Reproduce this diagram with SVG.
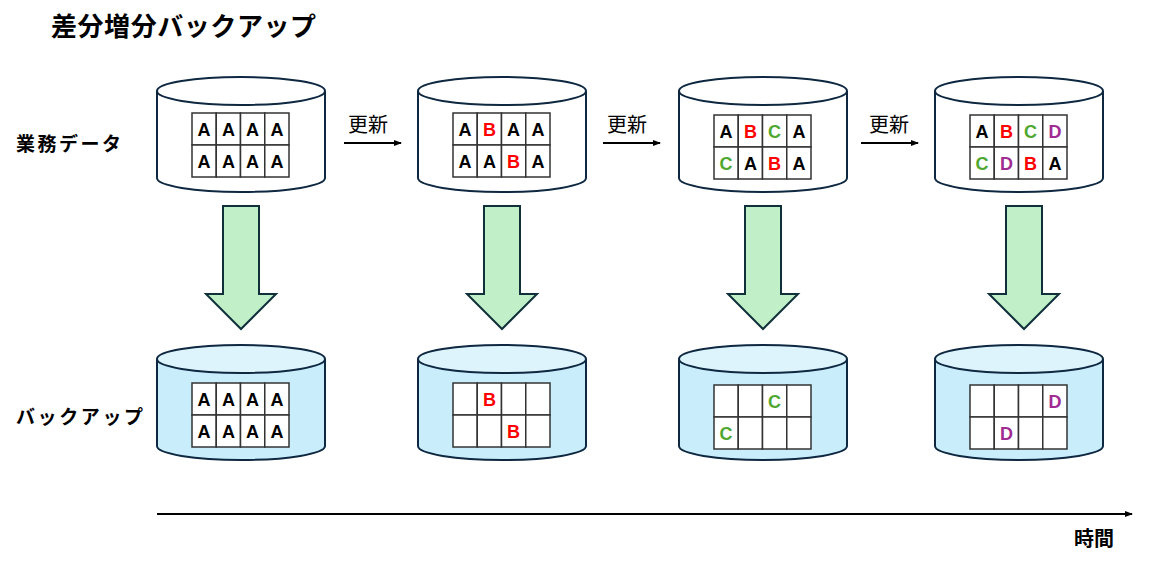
<svg xmlns="http://www.w3.org/2000/svg" width="1151" height="565" viewBox="0 0 1151 565">
<style>
.cyl{stroke:#0E2841;stroke-width:2}
.top{fill:#FFFFFF}
.bot{fill:#C9EDFA}
.lid{fill:#DDF4FC}
.cell{fill:#FFFFFF;stroke:#333333;stroke-width:1.5}
.ch{font-family:"Liberation Sans",Arial,sans-serif;font-weight:bold;font-size:18px;text-anchor:middle}
.k{fill:#000000}.r{fill:#FF0000}.g{fill:#4EA72E}.p{fill:#A02B93}
.jp{font-family:"Noto Sans CJK JP",sans-serif;fill:#000000}
.garrow{fill:#C1F0C8;stroke:#10303A;stroke-width:2;stroke-linejoin:miter}
.line{stroke:#000000;stroke-width:2;fill:none}
</style>
<defs>
<marker id="ah" markerWidth="8" markerHeight="8" refX="7" refY="4" orient="auto" markerUnits="userSpaceOnUse">
<path d="M0,1 L8,4 L0,7 Z" fill="#000000"/>
</marker>
<g id="grid">
<rect class="cell" x="0" y="0" width="24.25" height="32"/>
<rect class="cell" x="24.25" y="0" width="24.25" height="32"/>
<rect class="cell" x="48.5" y="0" width="24.25" height="32"/>
<rect class="cell" x="72.75" y="0" width="24.25" height="32"/>
<rect class="cell" x="0" y="32" width="24.25" height="32"/>
<rect class="cell" x="24.25" y="32" width="24.25" height="32"/>
<rect class="cell" x="48.5" y="32" width="24.25" height="32"/>
<rect class="cell" x="72.75" y="32" width="24.25" height="32"/>
</g>
</defs>

<text class="jp" x="51" y="36" font-size="26" font-weight="bold" textLength="265">差分増分バックアップ</text>
<text class="jp" x="16" y="151" font-size="19" font-weight="bold" textLength="105">業務データ</text>
<text class="jp" x="16" y="424" font-size="19" font-weight="bold" textLength="127">バックアップ</text>

<!-- top cylinders -->
<g id="db1">
<path class="cyl top" d="M157,91 L157,178 A84,14 0 0 0 325,178 L325,91"/>
<ellipse class="cyl top" cx="241" cy="91" rx="84" ry="14"/>
<use href="#grid" x="192" y="113"/>
<text class="ch k" x="204.1" y="136">A</text><text class="ch k" x="228.4" y="136">A</text><text class="ch k" x="252.6" y="136">A</text><text class="ch k" x="276.9" y="136">A</text>
<text class="ch k" x="204.1" y="168">A</text><text class="ch k" x="228.4" y="168">A</text><text class="ch k" x="252.6" y="168">A</text><text class="ch k" x="276.9" y="168">A</text>
</g>
<g id="db2">
<path class="cyl top" d="M418,91 L418,178 A84,14 0 0 0 586,178 L586,91"/>
<ellipse class="cyl top" cx="502" cy="91" rx="84" ry="14"/>
<use href="#grid" x="453" y="113"/>
<text class="ch k" x="465.1" y="136">A</text><text class="ch r" x="489.4" y="136">B</text><text class="ch k" x="513.6" y="136">A</text><text class="ch k" x="537.9" y="136">A</text>
<text class="ch k" x="465.1" y="168">A</text><text class="ch k" x="489.4" y="168">A</text><text class="ch r" x="513.6" y="168">B</text><text class="ch k" x="537.9" y="168">A</text>
</g>
<g id="db3">
<path class="cyl top" d="M679,91 L679,178 A84,14 0 0 0 847,178 L847,91"/>
<ellipse class="cyl top" cx="763" cy="91" rx="84" ry="14"/>
<use href="#grid" x="714" y="115"/>
<text class="ch k" x="726.1" y="138">A</text><text class="ch r" x="750.4" y="138">B</text><text class="ch g" x="774.6" y="138">C</text><text class="ch k" x="798.9" y="138">A</text>
<text class="ch g" x="726.1" y="170">C</text><text class="ch k" x="750.4" y="170">A</text><text class="ch r" x="774.6" y="170">B</text><text class="ch k" x="798.9" y="170">A</text>
</g>
<g id="db4">
<path class="cyl top" d="M935,91 L935,178 A84,14 0 0 0 1103,178 L1103,91"/>
<ellipse class="cyl top" cx="1019" cy="91" rx="84" ry="14"/>
<use href="#grid" x="970" y="115"/>
<text class="ch k" x="982.1" y="138">A</text><text class="ch r" x="1006.4" y="138">B</text><text class="ch g" x="1030.6" y="138">C</text><text class="ch p" x="1054.9" y="138">D</text>
<text class="ch g" x="982.1" y="170">C</text><text class="ch p" x="1006.4" y="170">D</text><text class="ch r" x="1030.6" y="170">B</text><text class="ch k" x="1054.9" y="170">A</text>
</g>

<!-- bottom cylinders -->
<g id="bk1">
<path class="cyl bot" d="M157,359 L157,446 A84,14 0 0 0 325,446 L325,359"/>
<ellipse class="cyl lid" cx="241" cy="359" rx="84" ry="14"/>
<use href="#grid" x="192" y="383"/>
<text class="ch k" x="204.1" y="406">A</text><text class="ch k" x="228.4" y="406">A</text><text class="ch k" x="252.6" y="406">A</text><text class="ch k" x="276.9" y="406">A</text>
<text class="ch k" x="204.1" y="438">A</text><text class="ch k" x="228.4" y="438">A</text><text class="ch k" x="252.6" y="438">A</text><text class="ch k" x="276.9" y="438">A</text>
</g>
<g id="bk2">
<path class="cyl bot" d="M418,359 L418,446 A84,14 0 0 0 586,446 L586,359"/>
<ellipse class="cyl lid" cx="502" cy="359" rx="84" ry="14"/>
<use href="#grid" x="453" y="383"/>
<text class="ch r" x="489.4" y="406">B</text>
<text class="ch r" x="513.6" y="438">B</text>
</g>
<g id="bk3">
<path class="cyl bot" d="M679,359 L679,446 A84,14 0 0 0 847,446 L847,359"/>
<ellipse class="cyl lid" cx="763" cy="359" rx="84" ry="14"/>
<use href="#grid" x="714" y="385"/>
<text class="ch g" x="774.6" y="408">C</text>
<text class="ch g" x="726.1" y="440">C</text>
</g>
<g id="bk4">
<path class="cyl bot" d="M935,359 L935,446 A84,14 0 0 0 1103,446 L1103,359"/>
<ellipse class="cyl lid" cx="1019" cy="359" rx="84" ry="14"/>
<use href="#grid" x="970" y="385"/>
<text class="ch p" x="1054.9" y="408">D</text>
<text class="ch p" x="1006.4" y="440">D</text>
</g>

<g id="connectors">
<path class="garrow" d="M223,206 L259,206 L259,294 L276,294 L241,329 L206,294 L223,294 Z"/>
<path class="garrow" d="M484,206 L520,206 L520,294 L537,294 L502,329 L467,294 L484,294 Z"/>
<path class="garrow" d="M745,206 L781,206 L781,294 L798,294 L763,329 L728,294 L745,294 Z"/>
<path class="garrow" d="M1006,206 L1042,206 L1042,294 L1059,294 L1024,329 L989,294 L1006,294 Z"/>
<line class="line" x1="344" y1="143" x2="401" y2="143" stroke-width="1.5" marker-end="url(#ah)"/>
<line class="line" x1="603" y1="143" x2="660" y2="143" stroke-width="1.5" marker-end="url(#ah)"/>
<line class="line" x1="861" y1="143" x2="918" y2="143" stroke-width="1.5" marker-end="url(#ah)"/>
<line class="line" x1="157" y1="514" x2="1132" y2="514" marker-end="url(#ah)"/>
</g>
<text class="jp" x="348" y="132" font-size="20">更新</text>
<text class="jp" x="607" y="132" font-size="20">更新</text>
<text class="jp" x="869" y="132" font-size="20">更新</text>
<text class="jp" x="1074" y="546" font-size="20" font-weight="bold">時間</text>
</svg>
